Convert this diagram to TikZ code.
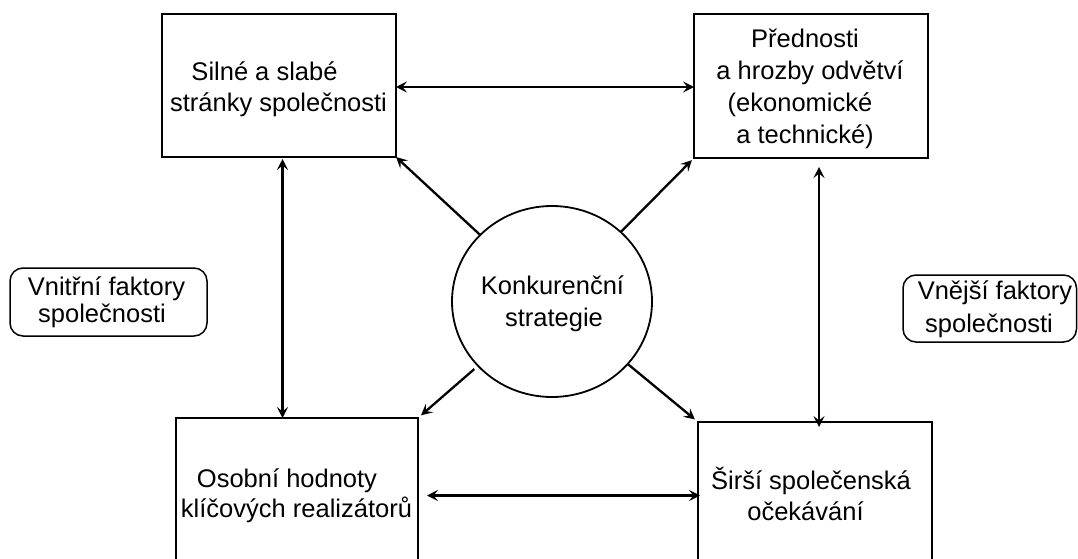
\documentclass[tikz,border=0pt]{standalone}
\usepackage{fontspec}
\setmainfont{Liberation Sans}
\usetikzlibrary{arrows.meta,shapes.geometric}
\begin{document}
\begin{tikzpicture}[x=1pt,y=-1pt,
  >={Stealth[length=11pt,width=11pt,inset=4.5pt]},
  box/.style={draw,rectangle,line width=1.8pt,inner sep=0pt,outer sep=0pt},
  tag/.style={draw,rectangle,rounded corners=13pt,line width=1.5pt,inner sep=0pt,outer sep=0pt},
  txt/.style={anchor=base,inner sep=0pt,font=\fontsize{25.5}{31}\selectfont},
  arr/.style={line width=2.3pt}]
\path[use as bounding box] (0,0) rectangle (1078,559);
\clip (0,0) rectangle (1078,559);

% four boxes (the lower two run past the bottom edge)
\node[box,minimum width=234pt,minimum height=143pt] (b1) at (279,85.5) {};
\node[box,minimum width=234pt,minimum height=144pt] (b2) at (811,86) {};
\node[box,minimum width=242pt,minimum height=182pt] (b3) at (297,509) {};
\node[box,minimum width=234pt,minimum height=178pt] (b4) at (815,511) {};

% central strategy
\node[draw,ellipse,line width=1.8pt,inner sep=0pt,outer sep=0pt,
      minimum width=200pt,minimum height=191pt] (c) at (552,301.5) {};

% side labels
\node[tag,minimum width=197pt,minimum height=68pt] (fl) at (108.5,302) {};
\node[tag,minimum width=173.5pt,minimum height=67pt] (fr) at (989.75,308.5) {};

% texts
\node[txt] (t1a) at (264.5,81) {Silné a slabé};
\node[txt] (t1b) at (278.5,112) {stránky společnosti};
\node[txt] (t2a) at (805,48) {Přednosti};
\node[txt] (t2b) at (810,80) {a hrozby odvětví};
\node[txt] (t2c) at (800,111.5) {(ekonomické};
\node[txt] (t2d) at (805,143) {a technické)};
\node[txt] (t3a) at (287,487) {Osobní hodnoty};
\node[txt] (t3b) at (296.5,517) {klíčových realizátorů};
\node[txt] (t4a) at (811,489) {Širší společenská};
\node[txt] (t4b) at (805.5,520) {očekávání};
\node[txt] (tca) at (552.5,294) {Konkurenční};
\node[txt] (tcb) at (554,326) {strategie};
\node[txt] (tla) at (106.5,295) {Vnitřní faktory};
\node[txt] (tlb) at (102,322.7) {společnosti};
\node[txt] (tra) at (995,299) {Vnější faktory};
\node[txt] (trb) at (989,332.5) {společnosti};

% connectors
\coordinate (vl) at (282.5,0);
\coordinate (vr) at (819,0);
\coordinate (ht) at (0,87);
\coordinate (hb) at (0,495.5);
\draw[arr,<->] (b1.east |- ht) -- (b2.west |- ht);
\draw[arr,<->,shorten <=2pt] (b1.south -| vl) -- (b3.north -| vl);
\draw[arr,<->,shorten <=9pt,shorten >=-5pt] (b2.south -| vr) -- (b4.north -| vr);
\draw[arr,<->,shorten <=9pt,shorten >=-2pt] (b3.east |- hb) -- (b4.west |- hb);
\draw[arr,->] (c) -- (b1.south east);
\draw[arr,->,shorten >=3pt] (c) -- (b2.south west);
\draw[arr,->,shorten <=5pt,shorten >=4pt] (c) -- (b3.north east);
\draw[arr,->,shorten >=4pt] (c) -- (b4.north west);
\end{tikzpicture}
\end{document}
